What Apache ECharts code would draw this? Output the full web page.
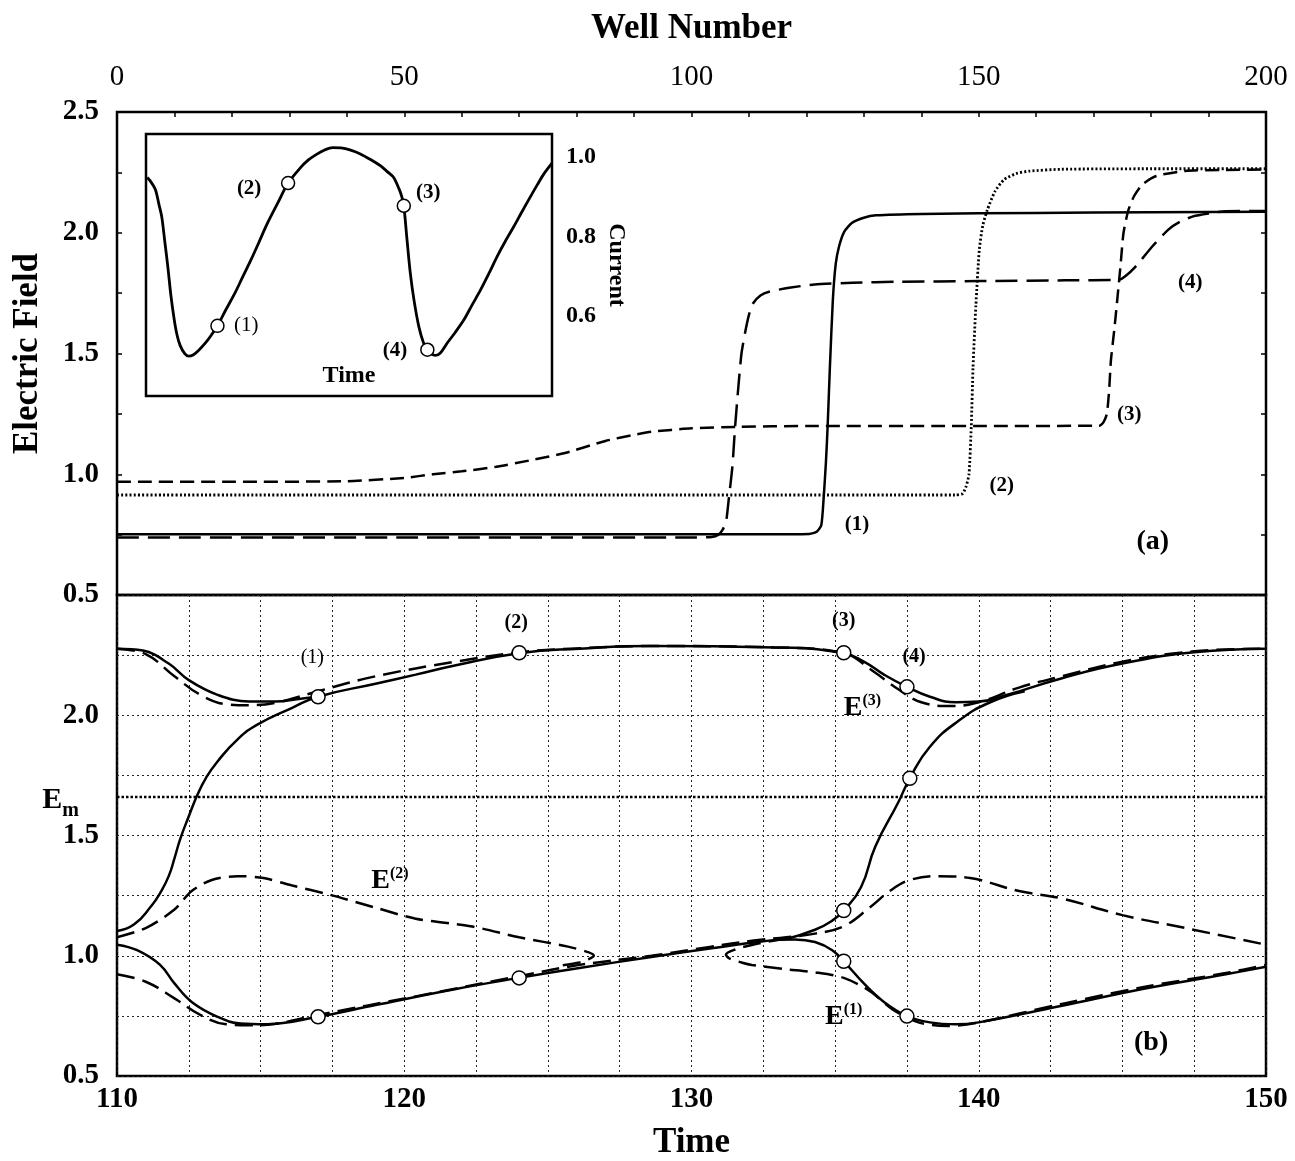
<!DOCTYPE html>
<html><head><meta charset="utf-8">
<script src="https://cdn.jsdelivr.net/npm/echarts@6/dist/echarts.min.js"></script>
<style>html,body{margin:0;padding:0;background:#fff}#c{width:1295px;height:1161px}</style>
</head><body><div id="c"></div>
<script>
// ---------- Panel (a): electric field vs well number ----------
const wellCurve1 = [[0,0.752],[60,0.752],[115,0.752],[120.5,0.753],[121.8,0.762],[122.6,0.79],[123.0,0.9],[123.4,1.05],[123.7,1.2],[124.1,1.45],[124.6,1.72],[125.1,1.87],[125.7,1.945],[126.6,2.005],[127.9,2.04],[130,2.062],[132.1,2.072],[140,2.078],[160,2.082],[180,2.085],[200,2.087]];
const wellCurve2 = [[0,0.914],[146,0.914],[147.2,0.92],[147.8,0.95],[148.3,1.0],[148.7,1.2],[149.0,1.44],[149.5,1.7],[150.1,1.93],[150.7,2.03],[151.5,2.095],[152.8,2.17],[154.4,2.22],[156.5,2.245],[158.7,2.255],[164.4,2.263],[180,2.265],[200,2.265]];
const wellCurve3 = [[0,0.969],[20,0.969],[40,0.971],[50,0.985],[55,1.0],[60,1.012],[66,1.031],[72,1.058],[78,1.088],[85,1.138],[90,1.163],[93,1.176],[100,1.19],[108,1.196],[120,1.2],[150,1.2],[171,1.201],[171.7,1.215],[172.3,1.25],[172.7,1.35],[173.0,1.47],[173.6,1.6],[174.1,1.72],[174.7,1.87],[175.2,2.0],[176,2.09],[177,2.15],[178.5,2.2],[180.9,2.235],[185.9,2.256],[192,2.26],[200,2.262]];
const wellCurve4 = [[0,0.738],[60,0.738],[100,0.738],[103.5,0.74],[104.7,0.75],[105.4,0.77],[106.0,0.8],[106.5,0.9],[107.1,1.027],[107.6,1.2],[108.2,1.374],[108.7,1.5],[109.3,1.583],[110,1.66],[110.7,1.707],[112,1.74],[113.5,1.756],[117,1.772],[121.4,1.786],[128,1.793],[135.8,1.797],[150,1.8],[165,1.803],[174.4,1.805],[175.5,1.82],[177.3,1.86],[180.2,1.943],[183,2.013],[185,2.045],[187.3,2.068],[190,2.08],[193,2.089],[200,2.09]];

// ---------- Inset: current vs time ----------
const insetCurrent = [[0.3,0.948],[1.0,0.94],[2.3,0.918],[3.2,0.88],[3.9,0.848],[4.6,0.79],[5.4,0.722],[6.1,0.655],[6.9,0.595],[7.6,0.555],[8.4,0.527],[9.5,0.507],[10.5,0.5],[11.6,0.503],[13.0,0.515],[14.8,0.535],[16.1,0.553],[17.6,0.576],[19.6,0.615],[21.7,0.654],[23.7,0.696],[25.7,0.738],[27.8,0.785],[29.8,0.831],[32.4,0.883],[35.0,0.934],[38.0,0.972],[40,0.992],[42.0,1.006],[44.0,1.017],[46.0,1.023],[48.0,1.022],[50.2,1.017],[52.8,1.007],[55.3,0.993],[57.8,0.977],[59.5,0.962],[61.0,0.948],[62.3,0.92],[63.0,0.9],[63.5,0.877],[64.3,0.791],[65.1,0.708],[66.0,0.641],[67.2,0.574],[68.4,0.532],[69.3,0.516],[70.3,0.505],[71.3,0.502],[72.5,0.508],[74.2,0.533],[76.2,0.56],[78.3,0.591],[80.3,0.628],[82.4,0.666],[84.5,0.708],[86.5,0.75],[88.5,0.788],[90.6,0.825],[92.6,0.862],[94.7,0.9],[96.4,0.93],[98.0,0.957],[100,0.984]];
const insetPoints = [[17.6,0.576],[35.0,0.934],[63.5,0.877],[69.3,0.516]];

// ---------- Panel (b): electric field vs time ----------
const emValue = 1.66;
const solidUpperDip = [[110,2.277],[110.9,2.269],[111.8,2.215],[112.5,2.146],[113.5,2.085],[114.6,2.057],[115.5,2.057],[116.4,2.069],[117,2.077]];
const solidMain = [[110,1.103],[110.6,1.131],[111.2,1.208],[111.5,1.26],[111.8,1.331],[112.0,1.405],[112.2,1.485],[112.5,1.58],[112.8,1.669],[113.1,1.74],[113.5,1.808],[114.2,1.9],[114.9,1.962],[116.1,2.031],[117,2.077],[119,2.131],[120.4,2.169],[121.8,2.208],[124,2.258],[126.1,2.277],[128.6,2.288],[132.9,2.282],[135.3,2.258],[136.0,2.223],[136.7,2.169],[137.5,2.118],[138.3,2.077],[139.2,2.054],[140.0,2.057],[141.0,2.085],[142.9,2.154],[145.0,2.215],[147.5,2.262],[150,2.277]];
const solidRise2 = [[133.3,1.07],[134.3,1.108],[134.9,1.146],[135.3,1.188],[135.9,1.285],[136.4,1.454],[137.2,1.638],[137.6,1.738],[138.3,1.869],[139.3,1.977],[140.4,2.054],[141.6,2.1]];
const solidLower = [[110,1.046],[110.7,1.023],[111.5,0.962],[112,0.885],[112.6,0.808],[113.5,0.746],[114.3,0.718],[115.2,0.715],[117,0.746],[119,0.795],[121.8,0.862],[124,0.908],[126.1,0.949],[128.6,0.995],[130.7,1.031],[132.1,1.054],[133.0,1.066],[133.6,1.068],[134.3,1.057],[134.9,1.023],[135.3,0.977],[136.0,0.885],[136.7,0.808],[137.5,0.749],[138.3,0.723],[139.2,0.715],[140,0.723],[142.9,0.792],[145.7,0.862],[148.6,0.923],[150,0.954]];
const dashUpper = [[110,2.277],[111,2.254],[112,2.162],[112.9,2.085],[113.8,2.046],[114.6,2.042],[115.6,2.054],[117,2.1],[119,2.162],[121.8,2.223],[124,2.262],[126,2.278],[128.6,2.288],[132.9,2.282],[135.3,2.258],[136.3,2.185],[137.2,2.108],[138,2.054],[139,2.038],[140,2.054],[141.4,2.115],[142.9,2.162],[145,2.223],[147.5,2.266],[150,2.277]];
const dashE2 = [[110,1.077],[111,1.115],[112,1.192],[112.6,1.269],[113.3,1.315],[114.2,1.331],[115.1,1.323],[116.1,1.292],[117.4,1.254],[119,1.2],[120.4,1.154],[122.3,1.123],[124,1.077],[125.7,1.038],[126.4,1.015],[126.6,1.0],[126.4,0.985],[126.1,0.972],[125.4,0.958]];
const dashLower = [[110,0.923],[111,0.892],[112,0.823],[112.9,0.754],[113.8,0.715],[114.6,0.711],[115.5,0.717],[117,0.754],[120.4,0.831],[124,0.915],[126.1,0.962],[128.6,1.0],[130.7,1.038],[132.1,1.062],[133.3,1.077],[134.3,1.092],[135.3,1.123],[136.2,1.2],[136.9,1.269],[137.6,1.315],[138.6,1.331],[139.7,1.323],[141.4,1.269],[142.9,1.238],[145,1.169],[147.2,1.115],[150,1.046]];
const dashFold = [[133.3,1.072],[132.1,1.045],[131.5,1.025],[131.2,1.005],[131.3,0.99],[131.8,0.97],[132.1,0.962],[133.2,0.945],[134.3,0.931],[135.3,0.908],[136.2,0.854],[137.0,0.777],[137.9,0.723],[138.9,0.708],[140,0.723],[142.9,0.8],[145.7,0.869],[148.6,0.928],[150,0.962]];
const timePoints = [[117,2.077],[124,2.26],[135.3,2.26],[137.5,2.118],[137.6,1.738],[135.3,1.188],[135.3,0.977],[137.5,0.749],[117,0.746],[124,0.908]];

// ---------- Tick labels ----------
const wellTickLabels = [0,50,100,150,200];
const timeTickLabels = [110,120,130,140,150];
const fieldTickLabels = [0.5,1.0,1.5,2.0,2.5];
const currentTickLabels = [0.6,0.8,1.0];

// ---------- Annotations (text, x, y) ----------
const annotA = [['(1)',128.8,0.79],['(2)',154.0,0.955],['(3)',176.2,1.248],['(4)',186.8,1.795]];
const annotAPanel = [['(a)',180.3,0.721]];
const annotInsetBold = [['(2)',25.4,0.92],['(3)',69.5,0.911],['(4)',61.3,0.515]];
const annotInsetReg = [['(1)',24.7,0.578]];
const annotBBold = [['(2)',123.9,2.385],['(3)',135.3,2.392],['(4)',137.75,2.243]];
const annotBReg = [['(1)',116.8,2.24]];
const annotBPanel = [['(b)',146.0,0.638]];
const annotBE = [['(3)',135.95,2.03],['(2)',119.5,1.31],['(1)',135.3,0.745]];

const FONT = '"Liberation Serif","Times New Roman",serif';
const has = (arr, v) => arr.some(a => Math.abs(a - v) < 1e-6);

function line(data, xi, yi, type, width, smooth) {
  return { type:'line', xAxisIndex:xi, yAxisIndex:yi, data:data, symbol:'none',
    smooth: smooth === undefined ? 0.3 : smooth,
    lineStyle:{ color:'#000', width:width || 2.5, type:type || 'solid', cap:'butt', opacity:1 }, z:3, silent:true };
}
function textSeries(arr, xi, yi, size, weight, rich) {
  return { type:'scatter', xAxisIndex:xi, yAxisIndex:yi, symbolSize:0, z:6, silent:true,
    itemStyle:{ opacity:1 },
    data: arr.map(a => ({ value:[a[1], a[2]], name:a[0] })),
    label:{ show:true, position:'inside', color:'#000', opacity:1, fontFamily:FONT, fontSize:size, fontWeight:weight,
      formatter: rich ? (p => '{e|E}{s|' + p.name + '}') : (p => p.name),
      rich: rich || undefined } };
}
function pointSeries(data, xi, yi, size) {
  return { type:'scatter', xAxisIndex:xi, yAxisIndex:yi, data:data, symbol:'circle', symbolSize:size, z:7, silent:true,
    itemStyle:{ color:'#fff', borderColor:'#000', borderWidth:1.5, opacity:1 } };
}

const chart = echarts.init(document.getElementById('c'), null, { renderer:'canvas' });
const option = {
  animation:false,
  backgroundColor:'#fff',
  grid:[
    { left:117, top:112, width:1149, height:483, show:true, borderColor:'#000', borderWidth:2.5, backgroundColor:'rgba(0,0,0,0)' },
    { left:117, top:595, width:1149, height:482, show:true, borderColor:'#000', borderWidth:2.5, backgroundColor:'rgba(0,0,0,0)' },
    { left:146, top:134, width:406, height:262, show:true, borderColor:'#000', borderWidth:2.5, backgroundColor:'#fff' }
  ],
  xAxis:[
    { gridIndex:0, type:'value', position:'top', min:0, max:200, interval:10,
      axisLine:{show:false}, splitLine:{show:false},
      axisTick:{show:true, inside:true, length:5, lineStyle:{color:'#000', width:1.5}},
      axisLabel:{ margin:20, color:'#000', fontFamily:FONT, fontSize:29, formatter:v => has(wellTickLabels, v) ? String(v) : '' },
      name:'Well Number', nameLocation:'middle', nameGap:66,
      nameTextStyle:{ color:'#000', fontFamily:FONT, fontSize:35, fontWeight:'bold' } },
    { gridIndex:1, type:'value', position:'bottom', min:110, max:150, interval:2.5,
      axisLine:{show:false}, axisTick:{show:false},
      splitLine:{show:true, lineStyle:{color:'#222', width:1, type:[2,3]}},
      axisLabel:{ margin:9, color:'#000', fontFamily:FONT, fontSize:29, fontWeight:'bold', formatter:v => has(timeTickLabels, v) ? String(v) : '' },
      name:'Time', nameLocation:'middle', nameGap:49,
      nameTextStyle:{ color:'#000', fontFamily:FONT, fontSize:35, fontWeight:'bold' } },
    { gridIndex:2, type:'value', min:0, max:100, show:true,
      axisLine:{show:false}, axisTick:{show:false}, axisLabel:{show:false}, splitLine:{show:false},
      name:'Time', nameLocation:'middle', nameGap:-32,
      nameTextStyle:{ color:'#000', fontFamily:FONT, fontSize:24, fontWeight:'bold' } }
  ],
  yAxis:[
    { gridIndex:0, type:'value', position:'left', min:0.5, max:2.5, interval:0.25,
      axisLine:{show:false}, splitLine:{show:false},
      axisTick:{show:true, inside:true, length:5, lineStyle:{color:'#000', width:1.5}},
      axisLabel:{ margin:18, color:'#000', fontFamily:FONT, fontSize:29, fontWeight:'bold', formatter:v => has(fieldTickLabels, v) ? v.toFixed(1) : '' },
      name:'Electric Field', nameLocation:'middle', nameGap:72,
      nameTextStyle:{ color:'#000', fontFamily:FONT, fontSize:35, fontWeight:'bold' } },
    { gridIndex:0, type:'value', position:'right', min:0.5, max:2.5, interval:0.25,
      axisLine:{show:false}, splitLine:{show:false}, axisLabel:{show:false},
      axisTick:{show:true, inside:true, length:5, lineStyle:{color:'#000', width:1.5}} },
    { gridIndex:1, type:'value', position:'left', min:0.5, max:2.5, interval:0.25,
      axisLine:{show:false}, axisTick:{show:false},
      splitLine:{show:true, lineStyle:{color:'#222', width:1, type:[2,3]}},
      axisLabel:{ margin:18, color:'#000', fontFamily:FONT, fontSize:29, fontWeight:'bold', formatter:v => (has(fieldTickLabels, v) && v < 2.4) ? v.toFixed(1) : '' } },
    { gridIndex:2, type:'value', position:'right', min:0.4, max:1.057, interval:0.2,
      axisLine:{show:false}, axisTick:{show:false}, splitLine:{show:false},
      axisLabel:{ margin:14, color:'#000', fontFamily:FONT, fontSize:24, fontWeight:'bold', formatter:v => has(currentTickLabels, v) ? v.toFixed(1) : '' },
      name:'Current', nameLocation:'middle', nameGap:52, nameRotate:-90,
      nameTextStyle:{ color:'#000', fontFamily:FONT, fontSize:24, fontWeight:'bold' } }
  ],
  series:[
    // panel (a)
    line(wellCurve1, 0, 0, 'solid', 2.5, 0.2),
    line(wellCurve2, 0, 0, [2,2.2], 2.8, 0.2),
    line(wellCurve3, 0, 0, [14,7], 2.5, 0.2),
    line(wellCurve4, 0, 0, [22,9], 2.5, 0.2),
    textSeries(annotA, 0, 0, 21, 'bold'),
    textSeries(annotAPanel, 0, 0, 28, 'bold'),
    // inset
    line(insetCurrent, 2, 3, 'solid', 2.8),
    pointSeries(insetPoints, 2, 3, 13),
    textSeries(annotInsetBold, 2, 3, 21, 'bold'),
    textSeries(annotInsetReg, 2, 3, 21, 'normal'),
    // panel (b)
    line([[110, emValue],[150, emValue]], 1, 2, [2.5,2], 2.5, false),
    line(solidUpperDip, 1, 2, 'solid', 2.5, 0.4),
    line(solidMain, 1, 2, 'solid', 2.5, 0.5),
    line(solidRise2, 1, 2, 'solid', 2.5, 0.5),
    line(solidLower, 1, 2, 'solid', 2.5, 0.4),
    line(dashUpper, 1, 2, [18,8], 2.5, 0.4),
    line(dashE2, 1, 2, [18,8], 2.5),
    line(dashLower, 1, 2, [18,8], 2.5, 0.4),
    line(dashFold, 1, 2, [18,8], 2.5),
    pointSeries(timePoints, 1, 2, 14),
    textSeries(annotBBold, 1, 2, 20, 'bold'),
    textSeries(annotBReg, 1, 2, 20, 'normal'),
    textSeries(annotBPanel, 1, 2, 28, 'bold'),
    textSeries(annotBE, 1, 2, 28, 'bold', {
      e:{ fontFamily:FONT, fontSize:28, fontWeight:'bold', color:'#000' },
      s:{ fontFamily:FONT, fontSize:16, fontWeight:'bold', color:'#000', verticalAlign:'top', padding:[0,0,14,0] } }),
    { type:'scatter', xAxisIndex:1, yAxisIndex:2, symbolSize:0, z:6, silent:true, itemStyle:{opacity:1},
      data:[{ value:[110, emValue], name:'Em' }],
      label:{ show:true, position:'left', distance:38, offset:[0,6], formatter:'{e|E}{m|m}',
        rich:{ e:{ fontFamily:FONT, fontSize:30, fontWeight:'bold', color:'#000', verticalAlign:'top' },
               m:{ fontFamily:FONT, fontSize:20, fontWeight:'bold', color:'#000', verticalAlign:'bottom', padding:[16,0,0,0] } } } }
  ]
};
chart.setOption(option);
</script></body></html>
